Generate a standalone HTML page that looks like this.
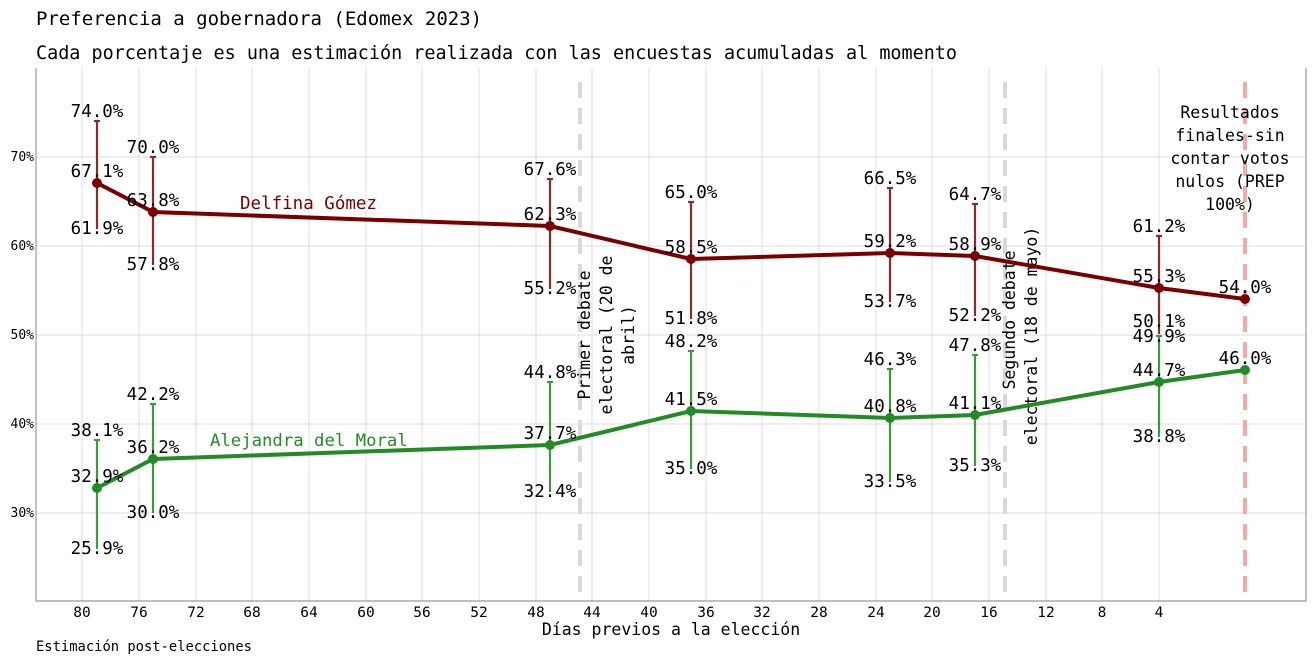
<!DOCTYPE html>
<html><head><meta charset="utf-8"><style>
body{margin:0;background:#fff;}
svg{display:block;font-family:"DejaVu Sans Mono","Liberation Mono",monospace;}
</style></head><body>
<svg width="1312" height="656" viewBox="0 0 1312 656" xmlns="http://www.w3.org/2000/svg">
<text x="36" y="25" font-size="19" fill="#000">Preferencia a gobernadora (Edomex 2023)</text>
<text x="36" y="59" font-size="18.3" fill="#000" textLength="921" lengthAdjust="spacingAndGlyphs">Cada porcentaje es una estimación realizada con las encuestas acumuladas al momento</text>
<g stroke="#dcdcdc" stroke-width="1">
<line x1="36" x2="1306" y1="157" y2="157"/><line x1="36" x2="1306" y1="246" y2="246"/><line x1="36" x2="1306" y1="335" y2="335"/><line x1="36" x2="1306" y1="424" y2="424"/><line x1="36" x2="1306" y1="513" y2="513"/>
<line x1="82" x2="82" y1="68" y2="601"/><line x1="139" x2="139" y1="68" y2="601"/><line x1="196" x2="196" y1="68" y2="601"/><line x1="252" x2="252" y1="68" y2="601"/><line x1="309" x2="309" y1="68" y2="601"/><line x1="366" x2="366" y1="68" y2="601"/><line x1="422" x2="422" y1="68" y2="601"/><line x1="479" x2="479" y1="68" y2="601"/><line x1="536" x2="536" y1="68" y2="601"/><line x1="592" x2="592" y1="68" y2="601"/><line x1="649" x2="649" y1="68" y2="601"/><line x1="706" x2="706" y1="68" y2="601"/><line x1="762" x2="762" y1="68" y2="601"/><line x1="819" x2="819" y1="68" y2="601"/><line x1="876" x2="876" y1="68" y2="601"/><line x1="932" x2="932" y1="68" y2="601"/><line x1="989" x2="989" y1="68" y2="601"/><line x1="1046" x2="1046" y1="68" y2="601"/><line x1="1102" x2="1102" y1="68" y2="601"/><line x1="1159" x2="1159" y1="68" y2="601"/>
</g>
<g stroke="#999" stroke-width="1.2" fill="none"><polyline points="36,68 36,601 1306,601 1306,68"/></g>
<g font-size="13" text-anchor="end" fill="#000">
<text x="34" y="161">70%</text><text x="34" y="250">60%</text><text x="34" y="339">50%</text><text x="34" y="428">40%</text><text x="34" y="517">30%</text></g>
<g font-size="14.5" text-anchor="middle" fill="#000">
<text x="82" y="617">80</text><text x="139" y="617">76</text><text x="196" y="617">72</text><text x="252" y="617">68</text><text x="309" y="617">64</text><text x="366" y="617">60</text><text x="422" y="617">56</text><text x="479" y="617">52</text><text x="536" y="617">48</text><text x="592" y="617">44</text><text x="649" y="617">40</text><text x="706" y="617">36</text><text x="762" y="617">32</text><text x="819" y="617">28</text><text x="876" y="617">24</text><text x="932" y="617">20</text><text x="989" y="617">16</text><text x="1046" y="617">12</text><text x="1102" y="617">8</text><text x="1159" y="617">4</text>
<text x="671" y="635" font-size="16.5">Días previos a la elección</text></g>
<text x="36" y="651" font-size="13.8">Estimación post-elecciones</text>
<g stroke-width="4" stroke-dasharray="16,10">
<line x1="580" x2="580" y1="82" y2="601" stroke="#dadada"/>
<line x1="1005" x2="1005" y1="82" y2="601" stroke="#dadada"/>
<line x1="1245" x2="1245" y1="82" y2="601" stroke="#f3aaa0"/></g>
<g font-size="16.5" text-anchor="middle" fill="#000">
<text transform="translate(590,335) rotate(-90)">Primer debate</text>
<text transform="translate(612,335) rotate(-90)">electoral (20 de</text>
<text transform="translate(634,335) rotate(-90)">abril)</text>
<text transform="translate(1015,320) rotate(-90)">Segundo debate</text>
<text transform="translate(1037,336) rotate(-90)">electoral (18 de mayo)</text>
<text x="1230" y="118">Resultados</text><text x="1230" y="141">finales-sin</text><text x="1230" y="164">contar votos</text><text x="1230" y="187">nulos (PREP</text><text x="1230" y="210">100%)</text>
</g>
<g stroke="#8a2a2a" stroke-width="2.2">
<line x1="97" x2="97" y1="121" y2="229"/><line x1="153" x2="153" y1="157" y2="265"/><line x1="550" x2="550" y1="179" y2="289"/><line x1="691" x2="691" y1="202" y2="319"/><line x1="890" x2="890" y1="188" y2="302"/><line x1="975" x2="975" y1="204" y2="316"/><line x1="1159" x2="1159" y1="236" y2="334"/>
<line x1="94" x2="100" y1="121" y2="121"/><line x1="150" x2="156" y1="157" y2="157"/><line x1="547" x2="553" y1="179" y2="179"/><line x1="688" x2="694" y1="202" y2="202"/><line x1="887" x2="893" y1="188" y2="188"/><line x1="972" x2="978" y1="204" y2="204"/><line x1="1156" x2="1162" y1="236" y2="236"/>
</g>
<g stroke="#3c9a3c" stroke-width="2.2">
<line x1="97" x2="97" y1="440" y2="549"/><line x1="153" x2="153" y1="404" y2="513"/><line x1="550" x2="550" y1="382" y2="492"/><line x1="691" x2="691" y1="351" y2="469"/><line x1="890" x2="890" y1="369" y2="482"/><line x1="975" x2="975" y1="355" y2="466"/><line x1="1159" x2="1159" y1="336" y2="437"/>
<line x1="94" x2="100" y1="440" y2="440"/><line x1="150" x2="156" y1="404" y2="404"/><line x1="547" x2="553" y1="382" y2="382"/><line x1="688" x2="694" y1="351" y2="351"/><line x1="887" x2="893" y1="369" y2="369"/><line x1="972" x2="978" y1="355" y2="355"/><line x1="1156" x2="1162" y1="336" y2="336"/>
</g>
<polyline fill="none" stroke="#7a0000" stroke-width="4" points="97,183 153,212 550,226 691,259 890,253 975,256 1159,288 1245,299"/>
<polyline fill="none" stroke="#238b23" stroke-width="4" points="97,488 153,459 550,445 691,411 890,418 975,415 1159,382 1245,370"/>
<g fill="#7a0000"><circle cx="97" cy="183" r="5"/><circle cx="153" cy="212" r="5"/><circle cx="550" cy="226" r="5"/><circle cx="691" cy="259" r="5"/><circle cx="890" cy="253" r="5"/><circle cx="975" cy="256" r="5"/><circle cx="1159" cy="288" r="5"/><circle cx="1245" cy="299" r="5"/></g>
<g fill="#238b23"><circle cx="97" cy="488" r="5"/><circle cx="153" cy="459" r="5"/><circle cx="550" cy="445" r="5"/><circle cx="691" cy="411" r="5"/><circle cx="890" cy="418" r="5"/><circle cx="975" cy="415" r="5"/><circle cx="1159" cy="382" r="5"/><circle cx="1245" cy="370" r="5"/></g>
<text x="240" y="209" font-size="17.5" fill="#7a0000">Delfina Gómez</text>
<text x="210" y="446" font-size="17.3" fill="#238b23">Alejandra del Moral</text>
<g font-size="17.5" text-anchor="middle" fill="#000">
<text x="97" y="117">74.0%</text><text x="97" y="177">67.1%</text><text x="97" y="234">61.9%</text>
<text x="153" y="153">70.0%</text><text x="153" y="206">63.8%</text><text x="153" y="270">57.8%</text>
<text x="550" y="175">67.6%</text><text x="550" y="220">62.3%</text><text x="550" y="294">55.2%</text>
<text x="691" y="198">65.0%</text><text x="691" y="253">58.5%</text><text x="691" y="324">51.8%</text>
<text x="890" y="184">66.5%</text><text x="890" y="247">59.2%</text><text x="890" y="307">53.7%</text>
<text x="975" y="200">64.7%</text><text x="975" y="250">58.9%</text><text x="975" y="321">52.2%</text>
<text x="1159" y="232">61.2%</text><text x="1159" y="282">55.3%</text><text x="1159" y="327">50.1%</text>
<text x="1245" y="293">54.0%</text>
<text x="97" y="436">38.1%</text><text x="97" y="482">32.9%</text><text x="97" y="554">25.9%</text>
<text x="153" y="400">42.2%</text><text x="153" y="453">36.2%</text><text x="153" y="518">30.0%</text>
<text x="550" y="378">44.8%</text><text x="550" y="439">37.7%</text><text x="550" y="497">32.4%</text>
<text x="691" y="347">48.2%</text><text x="691" y="405">41.5%</text><text x="691" y="474">35.0%</text>
<text x="890" y="365">46.3%</text><text x="890" y="412">40.8%</text><text x="890" y="487">33.5%</text>
<text x="975" y="351">47.8%</text><text x="975" y="409">41.1%</text><text x="975" y="471">35.3%</text>
<text x="1159" y="342">49.9%</text><text x="1159" y="376">44.7%</text><text x="1159" y="442">38.8%</text>
<text x="1245" y="364">46.0%</text>
</g>
</svg>
</body></html>
